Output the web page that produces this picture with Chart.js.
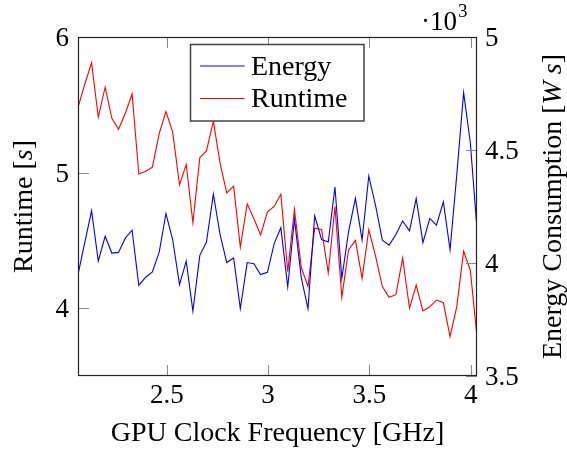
<!DOCTYPE html>
<html>
<head>
<meta charset="utf-8">
<script src="https://cdn.jsdelivr.net/npm/chart.js@4"></script>
<style>
  html, body { margin: 0; padding: 0; background: #fff; }
  #wrap { width: 567px; height: 450px; }
</style>
</head>
<body>
<div id="wrap"><canvas id="chart" width="567" height="450"></canvas></div>
<script>
// GPU clock frequency [GHz]
const freqGHz = [
  2.062, 2.095, 2.129, 2.162, 2.196, 2.229, 2.262, 2.296, 2.329, 2.362,
  2.396, 2.429, 2.463, 2.496, 2.529, 2.563, 2.596, 2.629, 2.663, 2.696,
  2.730, 2.763, 2.796, 2.830, 2.863, 2.897, 2.930, 2.963, 2.997, 3.030,
  3.063, 3.097, 3.130, 3.164, 3.197, 3.230, 3.264, 3.297, 3.330, 3.364,
  3.397, 3.431, 3.464, 3.497, 3.531, 3.564, 3.597, 3.631, 3.664, 3.698,
  3.731, 3.764, 3.798, 3.831, 3.865, 3.898, 3.931, 3.965, 3.998, 4.031
];
// runtime [s]  (left axis)
const runtime = [
  5.48, 5.65, 5.81, 5.41, 5.63, 5.40, 5.32, 5.44, 5.58, 4.99,
  5.01, 5.04, 5.29, 5.45, 5.30, 4.91, 5.06, 4.63, 5.11, 5.16,
  5.38, 5.07, 4.85, 4.90, 4.45, 4.77, 4.66, 4.54, 4.71, 4.75,
  4.84, 4.27, 4.73, 4.30, 4.16, 4.59, 4.58, 4.26, 4.75, 4.08,
  4.43, 4.50, 4.22, 4.58, 4.38, 4.16, 4.08, 4.10, 4.37, 4.00,
  4.17, 3.98, 4.01, 4.06, 4.04, 3.79, 4.01, 4.42, 4.28, 3.79
];
// energy consumption [Ws]  (right axis)
const energy = [
  3949, 4089, 4231, 4009, 4118, 4044, 4047, 4111, 4145, 3901,
  3937, 3960, 4049, 4219, 4104, 3904, 4008, 3787, 4034, 4093,
  4305, 4127, 4002, 4022, 3798, 4002, 3997, 3949, 3959, 4086,
  4156, 3894, 4194, 3934, 3798, 4209, 4104, 4093, 4336, 3932,
  4138, 4286, 4102, 4385, 4252, 4101, 4079, 4126, 4186, 4142,
  4286, 4090, 4197, 4167, 4271, 4058, 4389, 4754, 4533, 4148
];

const xTicks = [2.5, 3, 3.5, 4];
const leftTicks = [4, 5, 6];
const rightTicks = [3500, 4000, 4500, 5000];

const SERIF = '"Liberation Serif", "Times New Roman", serif';
const tickFont = '27px ' + SERIF;
const labelFont = '28px ' + SERIF;
const italicFont = 'italic 28px ' + SERIF;

function pts(ys) {
  return freqGHz.map((x, i) => ({ x: x, y: ys[i] }));
}

// draw text made of plain / italic pieces, centred on (0,0) of current transform
function mixedText(ctx, parts) {
  let total = 0;
  parts.forEach(p => { ctx.font = p[1] ? italicFont : labelFont; total += ctx.measureText(p[0]).width; });
  let x = -total / 2;
  ctx.textAlign = 'left';
  parts.forEach(p => {
    ctx.font = p[1] ? italicFont : labelFont;
    ctx.fillText(p[0], x, 0);
    x += ctx.measureText(p[0]).width;
  });
}

const overlay = {
  id: 'overlay',
  afterDatasetsDraw(chart) {
    const ctx = chart.ctx;
    const a = chart.chartArea;
    const xs = chart.scales.x, yl = chart.scales.y, yr = chart.scales.y1;
    ctx.save();

    // tick marks (inside)
    ctx.strokeStyle = '#8a8a8a';
    ctx.lineWidth = 1;
    ctx.beginPath();
    xTicks.forEach(v => {
      const px = Math.round(xs.getPixelForValue(v)) + 0.5;
      ctx.moveTo(px, a.bottom); ctx.lineTo(px, a.bottom - 11);
      ctx.moveTo(px, a.top); ctx.lineTo(px, a.top + 11);
    });
    leftTicks.forEach(v => {
      const py = Math.round(yl.getPixelForValue(v)) + 0.5;
      ctx.moveTo(a.left, py); ctx.lineTo(a.left + 11, py);
    });
    rightTicks.forEach(v => {
      const py = Math.round(yr.getPixelForValue(v)) + 0.5;
      ctx.moveTo(a.right, py); ctx.lineTo(a.right - 11, py);
    });
    ctx.stroke();

    // frame
    ctx.strokeStyle = '#222';
    ctx.lineWidth = 1.2;
    ctx.strokeRect(a.left + 0.5, a.top + 0.5, a.right - a.left - 1, a.bottom - a.top - 1);

    // tick labels
    ctx.fillStyle = '#000';
    ctx.font = tickFont;
    ctx.textBaseline = 'alphabetic';
    ctx.textAlign = 'center';
    xTicks.forEach(v => ctx.fillText(String(v), xs.getPixelForValue(v), 403));
    ctx.textAlign = 'right';
    leftTicks.forEach(v => ctx.fillText(String(v), 69, yl.getPixelForValue(v) + 9));
    ctx.textAlign = 'left';
    rightTicks.forEach(v => ctx.fillText(String(v / 1000), 485, yr.getPixelForValue(v) + 9));

    // scale factor ·10^3
    ctx.font = '27px ' + SERIF;
    ctx.fillText('\u00b710', 421, 30);
    const w10 = ctx.measureText('\u00b710').width;
    ctx.font = '19px ' + SERIF;
    ctx.fillText('3', 421 + w10 + 1, 17);

    // axis titles
    ctx.textBaseline = 'alphabetic';
    ctx.save();
    ctx.translate((a.left + a.right) / 2, 441);
    mixedText(ctx, [['GPU Clock Frequency [GHz]', false]]);
    ctx.restore();

    ctx.save();
    ctx.translate(32, (a.top + a.bottom) / 2);
    ctx.rotate(-Math.PI / 2);
    mixedText(ctx, [['Runtime [', false], ['s', true], [']', false]]);
    ctx.restore();

    ctx.save();
    ctx.translate(561, (a.top + a.bottom) / 2);
    ctx.rotate(-Math.PI / 2);
    mixedText(ctx, [['Energy Consumption [', false], ['W s', true], [']', false]]);
    ctx.restore();

    // legend
    const lx = 190.5, ly = 44.5, lw = 173.5, lh = 76.5;
    ctx.fillStyle = '#fff';
    ctx.fillRect(lx, ly, lw, lh);
    ctx.strokeStyle = '#444';
    ctx.lineWidth = 1.5;
    ctx.strokeRect(lx, ly, lw, lh);
    const entries = [['Energy', 'blue', 66, 74.5], ['Runtime', 'red', 98.5, 106.5]];
    entries.forEach(e => {
      ctx.strokeStyle = e[1];
      ctx.lineWidth = 1;
      ctx.beginPath();
      ctx.moveTo(200, e[2]); ctx.lineTo(244.5, e[2]);
      ctx.stroke();
      ctx.fillStyle = '#000';
      ctx.font = labelFont;
      ctx.textAlign = 'left';
      ctx.fillText(e[0], 251, e[3]);
    });

    ctx.restore();
  }
};

new Chart(document.getElementById('chart'), {
  type: 'line',
  data: {
    datasets: [
      { label: 'Energy', data: pts(energy), yAxisID: 'y1', borderColor: 'blue', borderWidth: 1.1, pointRadius: 0, tension: 0, fill: false },
      { label: 'Runtime', data: pts(runtime), yAxisID: 'y', borderColor: 'red', borderWidth: 1.1, pointRadius: 0, tension: 0, fill: false }
    ]
  },
  options: {
    responsive: false,
    animation: false,
    devicePixelRatio: 1,
    layout: { padding: { top: 37, left: 0, right: 0, bottom: 0 } },
    plugins: { legend: { display: false }, tooltip: { enabled: false } },
    scales: {
      x: {
        type: 'linear', position: 'bottom',
        min: freqGHz[0], max: freqGHz[freqGHz.length - 1],
        grid: { display: false }, border: { display: false },
        ticks: { display: false },
        afterFit: s => { s.height = 74; }
      },
      y: {
        type: 'linear', position: 'left', min: 3.5, max: 6,
        grid: { display: false }, border: { display: false },
        ticks: { display: false },
        afterFit: s => { s.width = 78; }
      },
      y1: {
        type: 'linear', position: 'right', min: 3500, max: 5000,
        grid: { display: false }, border: { display: false },
        ticks: { display: false },
        afterFit: s => { s.width = 90; }
      }
    }
  },
  plugins: [overlay]
});
</script>
</body>
</html>
